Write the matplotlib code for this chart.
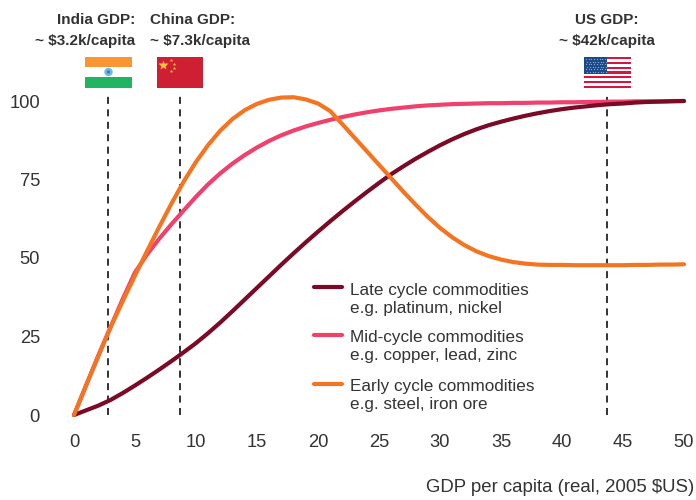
import matplotlib
matplotlib.use("Agg")
import matplotlib.pyplot as plt
from matplotlib.patches import Rectangle, Circle

plt.rcParams['font.family'] = ['Liberation Sans', 'DejaVu Sans']

gdp = [0, 1, 2, 3, 4, 5, 6, 7, 8, 9, 10, 11, 12, 13, 14, 15, 16, 17, 18, 19, 20, 21, 22, 23, 24, 25, 26, 27, 28, 29, 30,
       31, 32, 33, 34, 35, 36, 37, 38, 39, 40, 41, 42, 43, 44, 45, 46, 47, 48, 49, 50]
late = [0, 1.5, 3, 4.8, 7, 9.4, 11.9, 14.5, 17.2, 20, 22.9, 26.1, 29.5, 33.1, 36.8, 40.5, 44.2, 47.9, 51.5, 55, 58.4, 61.7, 64.9, 68,
        71, 73.9, 76.7, 79.2, 81.6, 83.8, 85.9, 87.8, 89.5, 91, 92.3, 93.4, 94.4, 95.3, 96.1, 96.8, 97.4, 97.9, 98.3, 98.7, 99,
        99.2, 99.5, 99.7, 99.8, 99.9, 100]
mid = [0, 9.5, 19, 28, 37, 45.4, 51.2, 56.2, 60.8, 65.2, 69.5, 73.5, 77, 80.1, 82.8, 85.2, 87.3, 89.1, 90.6, 91.9, 93, 94, 94.9, 95.7,
       96.4, 97, 97.5, 97.9, 98.3, 98.6, 98.8, 99, 99.1, 99.2, 99.3, 99.3, 99.4, 99.4, 99.5, 99.5, 99.6, 99.6, 99.7, 99.7, 99.8,
       99.8, 99.9, 99.9, 99.9, 100, 100]
early = [0, 9.5, 18.8, 28, 36.3, 44.4, 52.3, 60, 67.4, 74.4, 80.6, 86, 90.6, 94.3, 97.1, 99.1, 100.4, 101.1, 101.2, 100.5, 99.2, 96.8, 92.6, 88.3,
         84, 79.7, 75.4, 71.1, 67, 63.1, 59.6, 56.6, 54.1, 52.1, 50.6, 49.5, 48.7, 48.2, 47.9, 47.8, 47.8, 47.7, 47.7, 47.7, 47.7,
         47.7, 47.8, 47.8, 47.9, 47.9, 48]
x_ticks = [0, 5, 10, 15, 20, 25, 30, 35, 40, 45, 50]
y_ticks = [0, 25, 50, 75, 100]
ref_x = [2.79, 8.69, 43.69]
ref_labels = [("India GDP:", "~ $3.2k/capita"), ("China GDP:", "~ $7.3k/capita"), ("US GDP:", "~ $42k/capita")]
series_names = ["Late cycle commodities\ne.g. platinum, nickel", "Mid-cycle commodities\ne.g. copper, lead, zinc",
                "Early cycle commodities\ne.g. steel, iron ore"]

W, H = 696, 500
DARK = '#333333'
fig = plt.figure(figsize=(W / 100, H / 100), dpi=100)
ax = fig.add_axes([74 / W, 1 - 415 / H, 610 / W, 314 / H])
ax.set_xlim(0, 50)
ax.set_ylim(0, 100)
for s in ax.spines.values():
    s.set_visible(False)
ax.set_xticks(x_ticks)
ax.set_yticks(y_ticks)
ax.tick_params(length=0, labelsize=13.2, labelcolor=DARK)
ax.tick_params(axis='x', pad=14)
ax.tick_params(axis='y', pad=24.5)

for xv in ref_x:
    ax.plot([xv, xv], [0, 102], clip_on=False, color=DARK, lw=1.4, dashes=(3.6, 2.8), zorder=1)

COL = ['#7b0a27', '#f0406c', '#f47521']
lw = 3.0
ax.plot(gdp, mid, color=COL[1], lw=lw, clip_on=False, solid_capstyle='round', zorder=2)
ax.plot(gdp, late, color=COL[0], lw=lw, clip_on=False, solid_capstyle='round', zorder=3)
ax.plot(gdp, early, color=COL[2], lw=lw, clip_on=False, solid_capstyle='round', zorder=4)

# pixel-space overlay for annotations and flags
ov = fig.add_axes([0, 0, 1, 1], facecolor='none')
ov.set_xlim(0, W)
ov.set_ylim(H, 0)
ov.axis('off')

for (cx, ha), t in zip([(135, 'right'), (150, 'left'), (607, 'center')], ref_labels):
    ov.text(cx, 18, t[0], ha=ha, va='center_baseline', fontsize=11, fontweight='bold', color=DARK)
    ov.text(cx, 39, t[1], ha=ha, va='center_baseline', fontsize=11, fontweight='bold', color=DARK)

def rect(x, y, w, h, c):
    ov.add_patch(Rectangle((x, y), w, h, fc=c, ec='none'))

# India
rect(85, 57, 47, 31, 'white')
rect(85, 57, 47, 10, '#f99533')
rect(85, 77.3, 47, 10.4, '#1fb561')
ov.add_patch(Circle((108.5, 72), 4.2, fc='#6bbbe8', ec='none'))
ov.add_patch(Circle((108.5, 72), 1.6, fc='#2f7fc0', ec='none'))
# China
rect(157, 57, 46, 31, '#cf2033')
ov.plot([163], [64.5], marker='*', ms=7, color='#fbc531', mec='none')
ov.plot([171, 174, 174, 171], [60, 63.5, 67.5, 71], ls='none', marker='*', ms=2.6, color='#fbc531', mec='none')
# USA
rect(584, 57, 47, 31, 'white')
for i in range(7):
    rect(584, 57 + i * 2 * 31 / 13, 47, 31 / 13, '#d8143f')
rect(584, 57, 23, 16.7, '#1a4a8a')
for r in range(6):
    for c in range(8):
        ov.plot([586 + c * 2.7 + (r % 2) * 1.2], [59 + r * 2.5], marker='.', ms=1.8, color='#8fa8cf', mec='none')

# Legend
for (ly, c, t, ty) in zip([287, 335, 384], COL, series_names, [299.5, 346.5, 395.5]):
    ov.plot([314, 342], [ly, ly], color=c, lw=3.0, solid_capstyle='round')
    ov.text(350, ty, t, ha='left', va='center', fontsize=12.3, color=DARK, linespacing=1.22)

ov.text(694, 487, "GDP per capita (real, 2005 $US)", ha='right', va='center', fontsize=13.4, color=DARK)

fig.savefig('out.png', dpi=100)
